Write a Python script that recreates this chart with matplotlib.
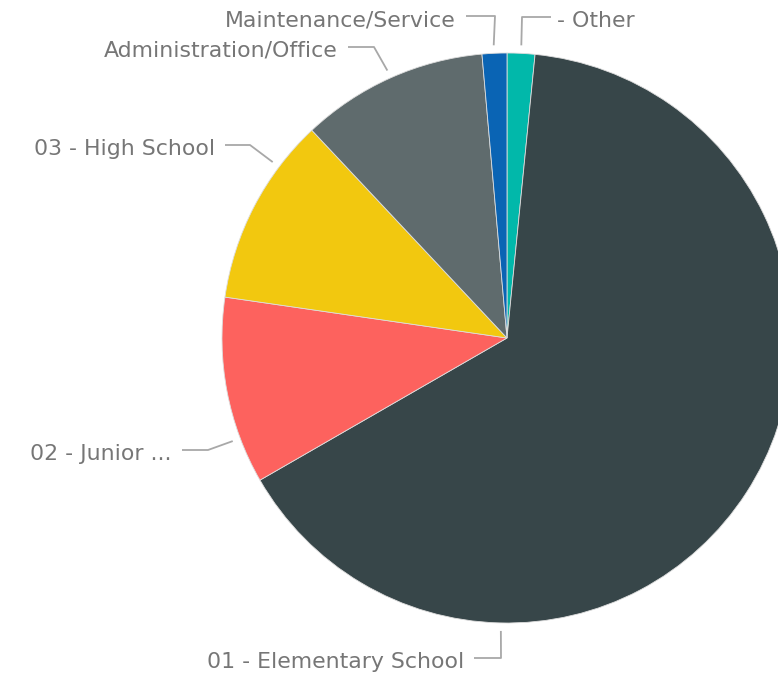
import matplotlib
matplotlib.use("Agg")
import matplotlib.pyplot as plt
import numpy as np

# ---- data ----
categories = ["- Other", "01 - Elementary School", "02 - Junior ...", "03 - High School",
              "Administration/Office", "Maintenance/Service"]
values = [1.57, 65.1, 10.6, 10.7, 10.6, 1.4]
colors = ["#01B8AA", "#374649", "#FD625E", "#F2C80F", "#5F6B6D", "#0A64B4"]

# ---- layout (pixel coordinates, y measured from top) ----
W, H = 778, 673
cx, cy, R = 507, 338, 285
# leader: (start angle clockwise from top, elbow point, end point, text side)
leaders = {
    "- Other":                (2.8,   (522, 17),  (551, 17),  "right"),
    "01 - Elementary School": (181.2, (501, 658), (474, 658), "left"),
    "02 - Junior ...":        (249.4, (208, 450), (182, 450), "left"),
    "03 - High School":       (306.9, (250, 145), (225, 145), "left"),
    "Administration/Office":  (335.9, (374, 47),  (348, 47),  "left"),
    "Maintenance/Service":    (357.4, (495, 16),  (466, 16),  "left"),
}

fig = plt.figure(figsize=(W / 100, H / 100), dpi=100)
ax = fig.add_axes([0, 0, 1, 1])

ax.pie(values, colors=colors, startangle=90, counterclock=False,
       center=(cx, H - cy), radius=R, frame=True,
       wedgeprops=dict(linewidth=0.6, edgecolor="#dddddd"))
ax.set_xlim(0, W)
ax.set_ylim(0, H)
ax.set_aspect("equal")
ax.axis("off")

line_color = "#a8a8a8"
text_color = "#767676"
for name in categories:
    ang, elbow, end, side = leaders[name]
    a = np.deg2rad(ang)
    r0 = R + 8
    sx = cx + r0 * np.sin(a)
    sy = cy - r0 * np.cos(a)
    xs = [sx, elbow[0], end[0]]
    ys = [H - sy, H - elbow[1], H - end[1]]
    ax.plot(xs, ys, color=line_color, lw=1.3, solid_capstyle="butt", clip_on=False)
    if side == "left":
        ax.text(end[0] - 10, H - end[1] - 4, name, ha="right", va="center",
                fontsize=15.8, color=text_color, family="DejaVu Sans")
    else:
        ax.text(end[0] + 6, H - end[1] - 4, name, ha="left", va="center",
                fontsize=15.8, color=text_color, family="DejaVu Sans")

fig.savefig("out.png", dpi=100)
